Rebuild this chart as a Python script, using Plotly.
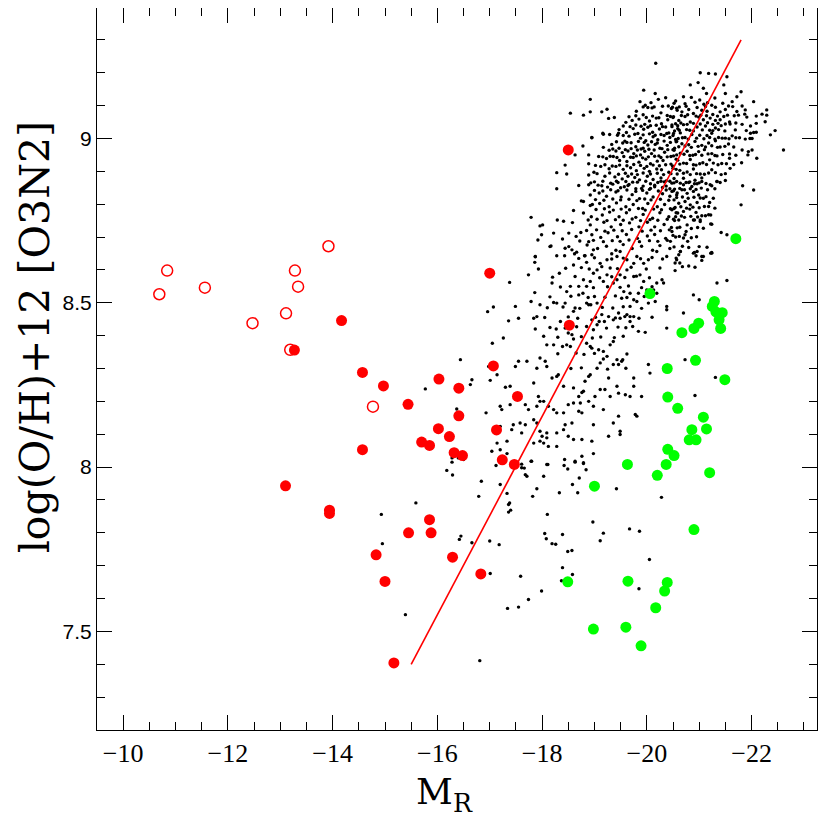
import plotly.graph_objects as go

# SDSS comparison galaxies: (M_R, 12+log(O/H))
sdss_pts = [
    # sparse outskirts, upper half
    (-20.17, 9.229), (-21.02, 9.200), (-21.18, 9.198), (-21.31, 9.196), (-21.53, 9.188),
    (-20.83, 9.163), (-20.98, 9.170), (-19.94, 9.147), (-20.16, 9.137), (-18.92, 9.119),
    (-18.54, 9.077), (-18.79, 9.071), (-18.92, 9.081), (-19.14, 9.081), (-19.24, 9.089),
    (-19.27, 9.061), (-19.38, 9.064), (-18.95, 9.002), (-18.78, 8.977), (-19.17, 9.013),
    (-19.46, 9.016), (-18.63, 8.950), (-18.89, 8.950), (-18.28, 8.896), (-18.47, 8.892),
    (-18.44, 8.919), (-18.28, 8.847), (-18.70, 8.857), (-18.89, 8.859), (-21.80, 9.142),
    (-22.04, 9.112), (-22.29, 9.087), (-22.29, 9.071), (-22.20, 9.074), (-22.26, 9.051),
    (-22.45, 9.024), (-22.36, 9.011), (-22.61, 8.965), (-22.04, 9.018), (-21.97, 9.000),
    (-22.01, 8.965), (-22.10, 8.940), (-21.81, 8.926), (-21.93, 8.950), (-21.83, 8.856),
    (-22.04, 8.843), (-21.80, 8.798), (-21.42, 8.714), (-21.53, 8.707), (-21.24, 8.739),
    (-21.22, 8.767), (-21.02, 8.752), (-20.89, 8.752), (-17.79, 8.760), (-17.96, 8.734),
    (-18.01, 8.737), (-17.99, 8.707), (-17.92, 8.691), (-18.17, 8.673), (-18.39, 8.694),
    (-18.29, 8.752), (-18.41, 8.748), (-17.87, 8.640), (-18.28, 8.643), (-18.60, 8.781),
    (-18.75, 8.810), (-18.79, 8.808), (-18.94, 8.762), (-18.92, 8.796), (-18.58, 8.744),
    (-18.74, 8.714), (-18.65, 8.702), (-18.89, 8.686), (-18.98, 8.661), (-18.51, 8.671),
    (-18.66, 8.654), (-18.82, 8.643),
    # dense core, left part
    (-19.87, 9.112), (-19.97, 9.101), (-20.08, 9.109), (-20.22, 9.119), (-20.36, 9.124),
    (-20.41, 9.099), (-20.55, 9.114), (-19.80, 9.083), (-19.93, 9.072), (-20.02, 9.094),
    (-20.14, 9.096), (-20.27, 9.078), (-20.39, 9.070), (-20.47, 9.091), (-20.58, 9.086),
    (-19.60, 9.049), (-19.72, 9.055), (-19.85, 9.059), (-19.96, 9.043), (-20.05, 9.053),
    (-20.18, 9.062), (-20.28, 9.045), (-20.40, 9.057), (-20.50, 9.064), (-19.47, 9.027),
    (-19.61, 9.018), (-19.74, 9.030), (-19.83, 9.015), (-19.94, 9.028), (-20.02, 9.034),
    (-20.11, 9.019), (-20.24, 9.029), (-20.30, 9.036), (-20.42, 9.017), (-20.53, 9.023),
    (-20.59, 9.039), (-19.16, 9.016), (-19.44, 9.010), (-19.66, 9.007), (-19.88, 9.001),
    (-19.98, 8.993), (-20.12, 9.005), (-20.21, 8.996), (-20.33, 9.009), (-20.44, 9.003),
    (-20.55, 8.997), (-18.95, 9.003), (-19.33, 8.982), (-19.54, 8.986), (-19.62, 8.988),
    (-19.79, 8.975), (-19.89, 8.968), (-20.02, 8.980), (-20.16, 8.982), (-20.25, 8.970),
    (-20.39, 8.979), (-20.50, 8.966), (-19.17, 8.973), (-19.28, 8.964), (-19.41, 8.962),
    (-19.53, 8.957), (-19.64, 8.962), (-19.75, 8.954), (-19.88, 8.950), (-19.96, 8.961),
    (-20.09, 8.954), (-20.23, 8.947), (-20.34, 8.958), (-20.46, 8.945), (-19.08, 8.945),
    (-19.23, 8.939), (-19.36, 8.945), (-19.48, 8.933), (-19.62, 8.930), (-19.74, 8.942),
    (-19.85, 8.928), (-19.98, 8.937), (-20.07, 8.923), (-20.20, 8.931), (-20.31, 8.933),
    (-20.46, 8.922), (-20.56, 8.937), (-18.89, 8.923), (-19.12, 8.915), (-19.28, 8.908),
    (-19.41, 8.915), (-19.55, 8.906), (-19.69, 8.911), (-19.80, 8.902), (-19.95, 8.909),
    (-20.05, 8.900), (-20.19, 8.907), (-20.28, 8.905), (-20.42, 8.897), (-20.56, 8.906),
    (-18.89, 8.889), (-18.99, 8.897), (-19.20, 8.885), (-19.39, 8.883), (-19.53, 8.877),
    (-19.64, 8.885), (-19.77, 8.881), (-19.86, 8.874), (-20.01, 8.885), (-20.12, 8.875),
    (-20.27, 8.880), (-20.37, 8.871), (-20.52, 8.878), (-18.93, 8.865), (-19.07, 8.858),
    (-19.25, 8.852), (-19.35, 8.861), (-19.50, 8.850), (-19.64, 8.857), (-19.79, 8.847),
    (-19.93, 8.855), (-20.07, 8.848), (-20.15, 8.858), (-20.30, 8.851), (-20.44, 8.847),
    # dense core, left part, in between
    (-19.93, 9.096), (-20.10, 9.093), (-20.30, 9.098), (-20.49, 9.095),
    (-19.66, 9.066), (-19.79, 9.069), (-19.99, 9.064), (-20.11, 9.068), (-20.23, 9.063), (-20.45, 9.067),
    (-19.55, 9.038), (-19.68, 9.036), (-19.79, 9.041), (-19.89, 9.037), (-20.07, 9.039),
    (-20.18, 9.040), (-20.36, 9.035), (-20.48, 9.041),
    (-19.29, 9.012), (-19.55, 9.009), (-19.77, 9.013), (-19.93, 9.011), (-20.05, 9.014),
    (-20.16, 9.010), (-20.27, 9.012), (-20.38, 9.015), (-20.50, 9.009),
    (-19.42, 8.990), (-19.58, 8.992), (-19.70, 8.987), (-19.84, 8.991), (-19.95, 8.988),
    (-20.09, 8.990), (-20.20, 8.986), (-20.33, 8.992), (-20.45, 8.988), (-20.57, 8.991),
    (-19.35, 8.968), (-19.47, 8.970), (-19.59, 8.966), (-19.70, 8.969), (-19.82, 8.965),
    (-19.93, 8.970), (-20.04, 8.967), (-20.14, 8.965), (-20.29, 8.969), (-20.40, 8.966), (-20.53, 8.970),
    (-19.16, 8.944), (-19.30, 8.946), (-19.43, 8.942), (-19.56, 8.945), (-19.69, 8.943),
    (-19.80, 8.947), (-19.92, 8.941), (-20.03, 8.944), (-20.15, 8.946), (-20.27, 8.942),
    (-20.39, 8.944), (-20.51, 8.947),
    (-19.02, 8.918), (-19.20, 8.920), (-19.34, 8.916), (-19.48, 8.919), (-19.62, 8.917),
    (-19.75, 8.921), (-19.88, 8.918), (-20.00, 8.915), (-20.12, 8.919), (-20.24, 8.917),
    (-20.36, 8.920), (-20.49, 8.916),
    (-19.05, 8.893), (-19.29, 8.895), (-19.46, 8.891), (-19.59, 8.894), (-19.71, 8.892),
    (-19.82, 8.890), (-19.93, 8.895), (-20.07, 8.892), (-20.20, 8.894), (-20.32, 8.890), (-20.46, 8.893),
    (-19.00, 8.868), (-19.16, 8.870), (-19.45, 8.866), (-19.60, 8.869), (-19.73, 8.867),
    (-19.98, 8.870), (-20.21, 8.866), (-20.33, 8.868), (-20.44, 8.870),
    (-19.00, 8.842), (-19.16, 8.840), (-19.31, 8.844), (-19.45, 8.841), (-19.62, 8.843),
    (-19.79, 8.839), (-19.92, 8.842), (-20.05, 8.845), (-20.22, 8.840), (-20.37, 8.843), (-20.51, 8.841),
    (-19.02, 8.814), (-19.18, 8.812), (-19.35, 8.816), (-19.50, 8.813), (-19.66, 8.815),
    (-19.81, 8.811), (-19.96, 8.816), (-20.08, 8.813), (-20.26, 8.815), (-20.42, 8.812),
    (-19.03, 8.784), (-19.19, 8.786), (-19.36, 8.782), (-19.51, 8.785), (-19.67, 8.783),
    (-19.84, 8.787), (-19.97, 8.782), (-20.13, 8.785), (-20.28, 8.783), (-20.45, 8.786),
    (-18.88, 8.752), (-19.05, 8.754), (-19.24, 8.750), (-19.40, 8.753), (-19.55, 8.751),
    (-19.72, 8.755), (-19.88, 8.750), (-20.06, 8.753), (-20.21, 8.751), (-20.39, 8.754), (-20.53, 8.750),
    (-18.85, 8.720), (-19.04, 8.722), (-19.20, 8.718), (-19.37, 8.721), (-19.53, 8.719),
    (-19.71, 8.723), (-19.91, 8.718), (-20.08, 8.721), (-20.26, 8.719), (-20.43, 8.722),
    (-18.72, 8.688), (-18.98, 8.690), (-19.17, 8.686), (-19.34, 8.689), (-19.49, 8.687),
    (-19.66, 8.691), (-19.86, 8.686), (-20.05, 8.689), (-20.21, 8.687), (-20.39, 8.690),
    # dense core, right part
    (-21.08, 9.153), (-21.14, 9.137), (-21.47, 9.163), (-21.50, 9.137), (-21.72, 9.127),
    (-20.52, 9.107), (-20.70, 9.127), (-20.73, 9.106), (-20.92, 9.110), (-21.01, 9.117),
    (-21.09, 9.104), (-21.16, 9.109), (-21.24, 9.101), (-21.45, 9.107), (-21.63, 9.112),
    (-21.64, 9.097), (-21.82, 9.099), (-20.57, 9.092), (-20.67, 9.081), (-20.80, 9.088),
    (-20.89, 9.076), (-21.05, 9.086), (-21.15, 9.083), (-21.40, 9.081), (-21.50, 9.088),
    (-21.72, 9.082), (-21.88, 9.087), (-21.87, 9.074), (-20.51, 9.066), (-20.61, 9.055),
    (-20.73, 9.067), (-20.83, 9.050), (-20.99, 9.065), (-21.08, 9.057), (-21.21, 9.062),
    (-21.31, 9.055), (-21.40, 9.057), (-21.47, 9.067), (-21.58, 9.050), (-21.75, 9.071),
    (-21.91, 9.065), (-22.09, 9.068), (-20.48, 9.036), (-20.59, 9.030), (-20.70, 9.042),
    (-20.82, 9.025), (-20.96, 9.035), (-21.12, 9.038), (-21.20, 9.025), (-21.31, 9.032),
    (-21.42, 9.039), (-21.59, 9.044), (-21.82, 9.043), (-21.98, 9.038), (-22.09, 9.046),
    (-20.51, 9.015), (-20.64, 9.017), (-20.73, 9.003), (-20.86, 9.012), (-21.01, 9.010),
    (-21.15, 9.009), (-21.24, 9.016), (-21.37, 9.003), (-21.50, 9.001), (-21.63, 9.008),
    (-21.77, 9.002), (-21.98, 9.016), (-22.01, 9.000), (-22.09, 9.019), (-20.56, 8.990),
    (-20.67, 8.984), (-20.80, 8.981), (-20.92, 8.991), (-21.05, 8.979), (-21.18, 8.986),
    (-21.31, 8.993), (-21.40, 8.974), (-21.56, 8.983), (-21.82, 8.965), (-21.94, 8.960),
    (-20.52, 8.964), (-20.64, 8.955), (-20.77, 8.961), (-20.88, 8.949), (-20.99, 8.960),
    (-21.10, 8.966), (-21.24, 8.954), (-21.34, 8.947), (-21.58, 8.953), (-21.58, 8.940),
    (-20.59, 8.934), (-20.70, 8.925), (-20.83, 8.936), (-20.94, 8.919), (-21.07, 8.926),
    (-21.20, 8.935), (-21.43, 8.924), (-20.50, 8.909), (-20.63, 8.903), (-20.77, 8.898),
    (-20.89, 8.907), (-21.02, 8.892), (-21.24, 8.905), (-21.31, 8.896), (-21.59, 8.909),
    (-20.70, 8.879), (-20.82, 8.868), (-20.92, 8.873), (-21.05, 8.880), (-21.21, 8.859),
    (-21.34, 8.869),
    # dense core, right part, in between
    (-20.85, 9.125), (-21.30, 9.123),
    (-20.62, 9.096), (-20.75, 9.098), (-20.96, 9.094), (-21.12, 9.097), (-21.31, 9.095), (-21.56, 9.099),
    (-20.66, 9.070), (-20.78, 9.072), (-20.94, 9.068), (-21.03, 9.071), (-21.14, 9.069),
    (-21.26, 9.073), (-21.35, 9.068), (-21.54, 9.071), (-21.67, 9.069),
    (-20.55, 9.045), (-20.65, 9.047), (-20.77, 9.043), (-20.89, 9.046), (-21.02, 9.044),
    (-21.16, 9.048), (-21.26, 9.043), (-21.36, 9.046), (-21.50, 9.044), (-21.70, 9.047),
    (-20.62, 9.025), (-20.76, 9.027), (-20.89, 9.023), (-21.06, 9.026), (-21.26, 9.024),
    (-21.37, 9.027), (-21.49, 9.023), (-21.69, 9.026), (-21.90, 9.024),
    (-20.60, 9.000), (-20.68, 9.002), (-20.79, 8.998), (-20.95, 9.001), (-21.09, 8.999),
    (-21.20, 9.003), (-21.30, 8.998), (-21.44, 9.001), (-21.57, 8.999), (-21.70, 9.002), (-21.88, 8.998),
    (-20.61, 8.975), (-20.73, 8.977), (-20.85, 8.973), (-20.98, 8.976), (-21.12, 8.974),
    (-21.24, 8.978), (-21.35, 8.973), (-21.49, 8.976), (-21.66, 8.974),
    (-20.57, 8.950), (-20.71, 8.952), (-20.82, 8.948), (-20.93, 8.951), (-21.05, 8.949),
    (-21.17, 8.953), (-21.30, 8.948), (-21.45, 8.951), (-21.70, 8.949),
    (-20.63, 8.922), (-20.76, 8.924), (-20.89, 8.920), (-21.01, 8.923), (-21.14, 8.921),
    (-21.27, 8.925), (-21.36, 8.920), (-21.52, 8.923), (-21.66, 8.921),
    (-20.58, 8.892), (-20.70, 8.894), (-20.83, 8.890), (-20.95, 8.893), (-21.10, 8.891),
    (-21.18, 8.895), (-21.42, 8.890), (-21.50, 8.893),
    (-20.64, 8.864), (-20.75, 8.866), (-20.91, 8.862), (-21.00, 8.865), (-21.13, 8.863), (-21.40, 8.866),
    (-20.53, 8.846), (-20.63, 8.848), (-20.72, 8.844), (-20.83, 8.847), (-20.94, 8.845),
    (-21.04, 8.849), (-21.16, 8.844), (-21.30, 8.847),
    (-20.57, 8.820), (-20.68, 8.822), (-20.79, 8.818), (-20.90, 8.821), (-21.02, 8.819),
    (-21.13, 8.823), (-21.27, 8.818),
    (-20.54, 8.790), (-20.65, 8.792), (-20.76, 8.788), (-20.88, 8.791), (-21.00, 8.789),
    (-21.10, 8.793), (-21.30, 8.788),
    (-20.55, 8.762), (-20.66, 8.764), (-20.72, 8.760), (-20.84, 8.763), (-20.97, 8.761), (-21.12, 8.765),
    (-20.58, 8.728), (-20.63, 8.730), (-20.85, 8.726), (-20.97, 8.729), (-21.08, 8.727),
    (-20.55, 8.700), (-20.62, 8.702), (-20.85, 8.698), (-20.95, 8.701),
    (-20.52, 8.670), (-20.68, 8.672), (-20.80, 8.668), (-21.00, 8.671), (-21.15, 8.669),
    (-20.68, 8.610), (-20.80, 8.612), (-20.92, 8.608),
    # core, lower left
    (-19.14, 8.856), (-19.31, 8.864), (-19.42, 8.870), (-19.57, 8.853), (-19.66, 8.860),
    (-19.82, 8.867), (-19.90, 8.848), (-20.07, 8.862), (-20.15, 8.853), (-20.27, 8.870),
    (-20.37, 8.855), (-20.52, 8.865), (-18.92, 8.828), (-19.09, 8.834), (-19.23, 8.824),
    (-19.41, 8.837), (-19.51, 8.822), (-19.72, 8.829), (-19.86, 8.817), (-20.00, 8.834),
    (-20.12, 8.822), (-20.30, 8.832), (-20.44, 8.824), (-20.58, 8.834), (-18.96, 8.799),
    (-19.10, 8.802), (-19.28, 8.792), (-19.42, 8.804), (-19.60, 8.792), (-19.74, 8.799),
    (-19.92, 8.787), (-20.02, 8.802), (-20.20, 8.792), (-20.34, 8.799), (-20.52, 8.787),
    (-18.79, 8.773), (-19.15, 8.767), (-19.29, 8.776), (-19.47, 8.762), (-19.61, 8.774),
    (-19.79, 8.760), (-19.93, 8.769), (-20.11, 8.757), (-20.25, 8.774), (-20.42, 8.762),
    (-20.56, 8.774), (-18.92, 8.737), (-19.18, 8.745), (-19.32, 8.731), (-19.50, 8.738),
    (-19.67, 8.743), (-19.85, 8.731), (-20.01, 8.745), (-20.15, 8.731), (-20.33, 8.738),
    (-20.47, 8.729), (-18.22, 8.712), (-18.51, 8.712), (-18.95, 8.707), (-19.12, 8.699),
    (-19.26, 8.713), (-19.44, 8.701), (-19.61, 8.708), (-19.82, 8.696), (-20.01, 8.703),
    (-20.15, 8.708), (-20.36, 8.696), (-20.50, 8.705), (-18.15, 8.671), (-18.44, 8.666),
    (-18.57, 8.661), (-18.86, 8.676), (-19.06, 8.665), (-19.23, 8.672), (-19.41, 8.660),
    (-19.55, 8.677), (-19.72, 8.665), (-19.90, 8.672), (-20.11, 8.660), (-20.25, 8.674),
    (-20.44, 8.665),
    # core, lower right
    (-20.48, 8.864), (-20.57, 8.869), (-20.70, 8.859), (-20.80, 8.866), (-20.86, 8.854),
    (-20.96, 8.862), (-21.05, 8.869), (-21.24, 8.856), (-21.34, 8.869), (-21.50, 8.872),
    (-20.48, 8.839), (-20.57, 8.828), (-20.67, 8.844), (-20.77, 8.833), (-20.89, 8.839),
    (-20.99, 8.828), (-21.08, 8.818), (-20.52, 8.813), (-20.61, 8.803), (-20.73, 8.808),
    (-20.83, 8.798), (-20.96, 8.805), (-21.18, 8.793), (-21.20, 8.805), (-20.48, 8.783),
    (-20.59, 8.773), (-20.70, 8.778), (-20.82, 8.785), (-20.94, 8.775), (-21.05, 8.765),
    (-21.18, 8.768), (-20.51, 8.754), (-20.61, 8.752), (-20.77, 8.737), (-20.91, 8.752),
    (-21.02, 8.747), (-21.22, 8.740), (-20.75, 8.717), (-20.73, 8.707), (-20.48, 8.717),
    (-20.70, 8.697), (-20.78, 8.687), (-20.45, 8.687), (-20.64, 8.656), (-20.61, 8.646),
    (-20.91, 8.653), (-20.96, 8.656), (-20.94, 8.643), (-21.08, 8.641), (-21.05, 8.629),
    (-21.24, 8.653), (-21.22, 8.651), (-20.56, 8.636), (-20.54, 8.621), (-20.63, 8.621),
    (-20.54, 8.598),
    # middle band
    (-17.87, 8.641), (-17.86, 8.623), (-17.93, 8.603), (-17.74, 8.585), (-17.38, 8.562),
    (-18.43, 8.643), (-18.62, 8.649), (-18.81, 8.643), (-18.95, 8.646), (-18.60, 8.615),
    (-18.85, 8.623), (-18.33, 8.590), (-18.19, 8.560), (-17.86, 8.531), (-17.79, 8.504),
    (-17.96, 8.494), (-17.84, 8.453), (-17.90, 8.458), (-17.55, 8.453), (-17.36, 8.445),
    (-17.49, 8.489), (-16.96, 8.473), (-17.07, 8.487), (-17.26, 8.393), (-17.05, 8.377),
    (-17.87, 8.420), (-18.27, 8.420), (-18.44, 8.423), (-18.35, 8.443), (-18.22, 8.501),
    (-18.28, 8.499), (-18.44, 8.499), (-18.60, 8.474), (-18.63, 8.484), (-18.47, 8.534),
    (-18.54, 8.550), (-18.79, 8.570), (-18.85, 8.550), (-18.92, 8.565), (-18.70, 8.524),
    (-18.78, 8.529), (-18.85, 8.499), (-18.89, 8.494), (-18.93, 8.494), (-19.05, 8.499),
    (-18.95, 8.448), (-19.05, 8.433), (-19.09, 8.443), (-19.19, 8.443), (-18.50, 8.408),
    (-18.57, 8.403), (-18.60, 8.390), (-18.03, 8.398), (-18.09, 8.372), (-18.22, 8.372),
    (-18.39, 8.367), (-18.47, 8.372), (-18.54, 8.367), (-18.85, 8.377), (-18.92, 8.367),
    (-18.95, 8.362), (-19.08, 8.357), (-19.17, 8.352), (-19.30, 8.372), (-19.36, 8.382),
    (-18.85, 8.428), (-18.98, 8.418), (-19.14, 8.464), (-19.27, 8.458), (-19.36, 8.448),
    (-19.46, 8.469), (-19.49, 8.453), (-19.62, 8.464), (-19.68, 8.443), (-19.75, 8.458),
    (-19.84, 8.413), (-19.97, 8.410), (-20.38, 8.423), (-20.70, 8.469), (-20.38, 8.489),
    (-20.38, 8.479), (-20.29, 8.570), (-20.32, 8.560), (-20.19, 8.560), (-20.00, 8.539),
    (-19.94, 8.565), (-19.87, 8.585), (-19.75, 8.580), (-19.62, 8.600), (-19.49, 8.585),
    (-19.43, 8.570), (-19.36, 8.560), (-19.24, 8.585), (-19.17, 8.565), (-19.14, 8.610),
    (-18.98, 8.590), (-19.05, 8.600), (-19.11, 8.620), (-19.24, 8.631), (-19.33, 8.649),
    (-19.43, 8.641), (-19.49, 8.656), (-19.62, 8.631), (-19.75, 8.620), (-19.81, 8.641),
    (-19.94, 8.620), (-20.03, 8.631), (-20.19, 8.656), (-20.38, 8.641), (-20.57, 8.631),
    (-20.64, 8.656), (-20.89, 8.651), (-21.05, 8.641), (-21.24, 8.651), (-21.34, 8.560),
    (-21.53, 8.568), (-20.89, 8.524), (-21.00, 8.509), (-19.84, 8.529), (-19.68, 8.529),
    (-19.56, 8.534), (-19.52, 8.514), (-19.75, 8.509), (-19.81, 8.504), (-20.03, 8.499),
    (-20.13, 8.539), (-20.16, 8.504), (-20.19, 8.529), (-19.68, 8.489), (-19.68, 8.458),
    (-19.52, 8.322), (-19.54, 8.327), (-19.36, 8.312), (-19.43, 8.327), (-19.46, 8.312),
    (-19.24, 8.337), (-19.17, 8.329), (-19.11, 8.317), (-19.05, 8.301), (-18.92, 8.281),
    (-18.89, 8.276), (-18.82, 8.261), (-18.79, 8.231), (-18.76, 8.227), (-18.60, 8.241),
    (-18.70, 8.215), (-18.41, 8.246), (-18.31, 8.281), (-18.28, 8.276), (-18.19, 8.271),
    (-18.09, 8.306), (-17.96, 8.332), (-18.06, 8.322), (-17.90, 8.301), (-17.84, 8.256),
    (-17.71, 8.322), (-17.55, 8.322), (-17.49, 8.306), (-17.39, 8.246), (-17.30, 8.243),
    (-17.14, 8.281), (-17.01, 8.264), (-16.93, 8.165), (-17.20, 8.185), (-17.23, 8.175),
    (-17.39, 8.190), (-17.45, 8.129), (-17.58, 8.134), (-17.68, 8.190), (-17.74, 8.175),
    (-17.84, 8.144), (-17.90, 8.134), (-17.90, 8.185), (-17.93, 8.215), (-17.96, 8.200),
    (-18.03, 8.200), (-18.12, 8.185), (-18.22, 8.175), (-18.28, 8.165), (-18.50, 8.190),
    (-18.60, 8.195), (-18.41, 8.165), (-18.44, 8.129), (-18.57, 8.134), (-18.70, 8.170),
    (-18.73, 8.195), (-18.76, 8.165), (-18.89, 8.200), (-18.98, 8.185), (-19.01, 8.215),
    (-19.11, 8.236), (-19.20, 8.236), (-19.27, 8.271), (-19.30, 8.215), (-19.43, 8.246),
    (-19.46, 8.225), (-19.59, 8.220), (-19.68, 8.215), (-19.75, 8.246), (-19.90, 8.215),
    (-19.75, 8.271), (-19.78, 8.160), (-19.81, 8.155), (-19.46, 8.155), (-19.36, 8.134),
    (-19.49, 8.109), (-19.27, 8.094), (-19.17, 8.175), (-18.98, 8.129), (-18.95, 8.079),
    (-18.76, 8.084), (-18.60, 8.084), (-18.50, 8.094), (-18.41, 8.114), (-18.28, 8.104),
    (-18.09, 8.104), (-18.09, 8.089), (-18.00, 8.094), (-17.96, 8.109), (-17.96, 8.079),
    (-17.84, 8.073), (-17.68, 8.129), (-17.61, 8.104), (-17.42, 8.114), (-17.33, 8.079),
    (-17.20, 8.053), (-17.33, 8.041), (-18.03, 8.073), (-18.12, 8.063), (-18.28, 8.063),
    (-18.98, 8.041), (-18.43, 8.023), (-18.63, 8.018), (-18.76, 8.033), (-18.79, 8.013),
    (-18.09, 8.008), (-17.80, 8.018), (-17.61, 7.998), (-19.49, 8.099), (-20.06, 8.286),
    (-20.03, 8.312), (-21.31, 8.273), (-20.92, 8.218), (-20.73, 8.327), (-20.38, 8.296),
    (-16.66, 8.266), (-16.63, 8.251), (-16.44, 8.327), (-15.77, 8.238), (-16.38, 8.231),
    (-16.37, 8.177), (-16.28, 8.028), (-16.40, 8.028), (-16.50, 8.023), (-17.04, 8.048),
    (-17.20, 8.124), (-17.14, 8.073), (-16.98, 8.306),
    # middle band, in between
    (-18.70, 8.635), (-19.00, 8.637), (-19.33, 8.633), (-19.55, 8.636), (-19.88, 8.634),
    (-20.10, 8.638), (-20.30, 8.633),
    (-18.45, 8.605), (-18.75, 8.607), (-18.90, 8.603), (-19.30, 8.606), (-19.44, 8.604),
    (-19.70, 8.608), (-19.99, 8.603), (-20.25, 8.606),
    (-18.20, 8.578), (-18.63, 8.580), (-19.10, 8.576), (-19.33, 8.579), (-19.58, 8.577),
    (-19.80, 8.581), (-20.05, 8.576),
    (-18.35, 8.548), (-18.70, 8.550), (-18.98, 8.546), (-19.25, 8.549), (-19.49, 8.547),
    (-19.65, 8.551), (-19.90, 8.546), (-20.10, 8.549),
    (-18.15, 8.518), (-18.55, 8.520), (-18.88, 8.516), (-19.00, 8.519), (-19.20, 8.517),
    (-19.40, 8.521), (-19.62, 8.516), (-19.95, 8.519),
    (-18.10, 8.485), (-18.40, 8.487), (-18.72, 8.483), (-19.15, 8.486), (-19.35, 8.484),
    (-19.55, 8.488), (-19.90, 8.483),
    (-18.05, 8.455), (-18.50, 8.457), (-18.68, 8.453), (-19.02, 8.456), (-19.40, 8.454),
    (-19.58, 8.458), (-19.85, 8.453), (-20.10, 8.456),
    (-18.15, 8.425), (-18.66, 8.427), (-19.23, 8.423), (-19.45, 8.426), (-19.60, 8.424), (-19.73, 8.428),
    (-18.30, 8.395), (-18.75, 8.397), (-18.96, 8.393), (-19.12, 8.396), (-19.38, 8.394), (-19.55, 8.398),
    (-18.30, 8.345), (-18.65, 8.347), (-18.80, 8.343), (-19.00, 8.346), (-19.62, 8.344),
    (-18.55, 8.300), (-18.75, 8.302), (-19.25, 8.298), (-19.60, 8.301),
    # lower tail
    (-16.28, 8.015), (-16.18, 7.990), (-16.29, 7.976), (-16.84, 7.957), (-16.79, 7.911),
    (-17.20, 7.947), (-17.33, 7.920), (-17.36, 7.886), (-17.38, 7.891), (-17.40, 7.869),
    (-17.36, 7.863), (-15.59, 7.891), (-16.45, 7.790), (-16.42, 7.780), (-16.66, 7.770),
    (-17.00, 7.775), (-17.18, 7.764), (-17.01, 7.676), (-17.59, 7.668), (-17.12, 8.005),
    (-17.49, 8.011), (-17.61, 8.009), (-17.66, 7.997), (-17.68, 7.977), (-17.71, 7.972),
    (-17.79, 8.018), (-18.03, 7.972), (-18.11, 8.008), (-18.42, 8.005), (-18.49, 7.994),
    (-18.63, 8.015), (-18.79, 8.011), (-18.84, 7.992), (-18.71, 7.967), (-18.58, 7.947),
    (-18.68, 7.922), (-18.33, 7.922), (-17.90, 7.934), (-17.82, 7.911), (-18.10, 7.856),
    (-18.05, 7.798), (-18.08, 7.782), (-18.19, 7.767), (-18.26, 7.765), (-18.39, 7.795),
    (-18.49, 7.743), (-18.57, 7.746), (-18.97, 7.833), (-19.17, 7.799), (-19.11, 7.776),
    (-18.96, 7.937), (-19.42, 7.934), (-19.67, 7.812), (-19.86, 7.805), (-20.05, 7.719),
    (-20.28, 7.908), (-18.39, 7.694), (-18.58, 7.673), (-18.37, 7.654), (-17.99, 7.623),
    (-17.74, 7.597), (-17.55, 7.574), (-17.34, 7.570), (-19.85, 7.630), (-15.39, 7.551),
    (-16.81, 7.411), (-14.93, 7.856), (-14.95, 7.767),
]
sdss_mr = [p[0] for p in sdss_pts]
sdss_oh = [p[1] for p in sdss_pts]

# dwarf sample, filled red circles
dwarf_mr = [-18.50, -17.00, -18.52, -17.07, -14.17, -13.27, -14.57, -14.97, -15.44, -16.03,
            -16.41, -17.53, -16.41, -16.02, -16.23, -17.13, -15.70, -15.85, -14.57, -16.32,
            -16.48, -17.24, -17.47, -15.85, -15.45, -15.88, -16.29, -16.83, -13.10, -13.94,
            -13.94, -14.83, -15.00, -15.17]
dwarf_oh = [8.965, 8.590, 8.432, 8.308, 8.446, 8.356, 8.288, 8.247, 8.191, 8.268,
            8.240, 8.215, 8.156, 8.117, 8.093, 8.113, 8.076, 8.066, 8.053, 8.044,
            8.035, 8.022, 8.008, 7.840, 7.800, 7.800, 7.726, 7.675, 7.943, 7.869,
            7.859, 7.733, 7.652, 7.404]

# dwarf sample, open red circles
open_mr = [-10.84, -10.69, -11.56, -12.47, -13.28, -13.34, -13.11, -13.92, -13.19, -14.77]
open_oh = [8.598, 8.526, 8.546, 8.438, 8.598, 8.549, 8.468, 8.672, 8.357, 8.184]

# bright sample, green circles
bright_mr = [-21.70, -20.06, -21.29, -21.25, -21.32, -21.44, -21.38, -21.41, -20.99, -20.90,
             -20.67, -20.93, -20.39, -21.49, -20.40, -20.59, -21.08, -20.86, -21.14, -20.81,
             -20.94, -20.40, -20.52, -19.63, -20.37, -21.20, -20.20, -19.00, -20.90, -18.49,
             -19.64, -20.39, -20.34, -20.17, -18.98, -19.60, -19.89]
bright_oh = [8.695, 8.528, 8.504, 8.489, 8.472, 8.470, 8.448, 8.422, 8.438, 8.422,
             8.409, 8.325, 8.300, 8.266, 8.213, 8.179, 8.152, 8.114, 8.116, 8.083,
             8.083, 8.054, 8.035, 8.008, 8.008, 7.983, 7.975, 7.942, 7.810, 7.651,
             7.653, 7.649, 7.623, 7.572, 7.507, 7.513, 7.456]

# fitted relation
fit_mr = [-15.5, -21.8]
fit_oh = [7.40, 9.30]

fig = go.Figure()
fig.add_trace(go.Scatter(x=sdss_mr, y=sdss_oh, mode="markers",
                         marker=dict(color="black", size=3.4, line=dict(width=0))))
fig.add_trace(go.Scatter(x=fit_mr, y=fit_oh, mode="lines",
                         line=dict(color="#ff0000", width=1.6)))
fig.add_trace(go.Scatter(x=bright_mr, y=bright_oh, mode="markers",
                         marker=dict(color="#00ff00", size=11, line=dict(width=0))))
fig.add_trace(go.Scatter(x=dwarf_mr, y=dwarf_oh, mode="markers",
                         marker=dict(color="#ff0000", size=11, line=dict(width=0))))
fig.add_trace(go.Scatter(x=open_mr, y=open_oh, mode="markers",
                         marker=dict(symbol="circle-open", color="#ff0000", size=11,
                                     line=dict(width=1.5))))

axis_style = dict(
    showline=True, linecolor="black", linewidth=1.2, mirror="ticks",
    ticks="inside", ticklen=15, tickwidth=1.2, tickcolor="black",
    showgrid=False, zeroline=False,
)
fig.update_xaxes(
    range=[-9.5, -23.25], tick0=-10, dtick=2,
    minor=dict(ticks="inside", ticklen=8, tickwidth=1.2, tickcolor="black", dtick=0.5),
    tickfont=dict(family="Liberation Serif", size=26, color="black"),
    **axis_style,
)
fig.update_yaxes(
    range=[7.2, 9.397], tick0=7.5, dtick=0.5,
    minor=dict(ticks="inside", ticklen=8, tickwidth=1.2, tickcolor="black", dtick=0.1),
    tickfont=dict(family="Liberation Sans", size=21, color="black"),
    **axis_style,
)

fig.add_annotation(text="log(O/H)+12 [O3N2]", textangle=-90, showarrow=False,
                   xref="paper", yref="paper", x=-0.086, y=0.544,
                   xanchor="center", yanchor="middle",
                   font=dict(family="DejaVu Serif", size=41, color="black"))
fig.add_annotation(text="M<sub>R</sub>", showarrow=False,
                   xref="paper", yref="paper", x=0.483, y=-0.09,
                   xanchor="center", yanchor="middle",
                   font=dict(family="DejaVu Serif", size=36, color="black"))

# page adds an 8px body margin, so the figure is a bit smaller than the window
fig.update_layout(
    width=822, height=817,
    margin=dict(l=89, r=13, t=0, b=95),
    paper_bgcolor="white", plot_bgcolor="white",
    showlegend=False,
)

fig.write_html("out.html")
